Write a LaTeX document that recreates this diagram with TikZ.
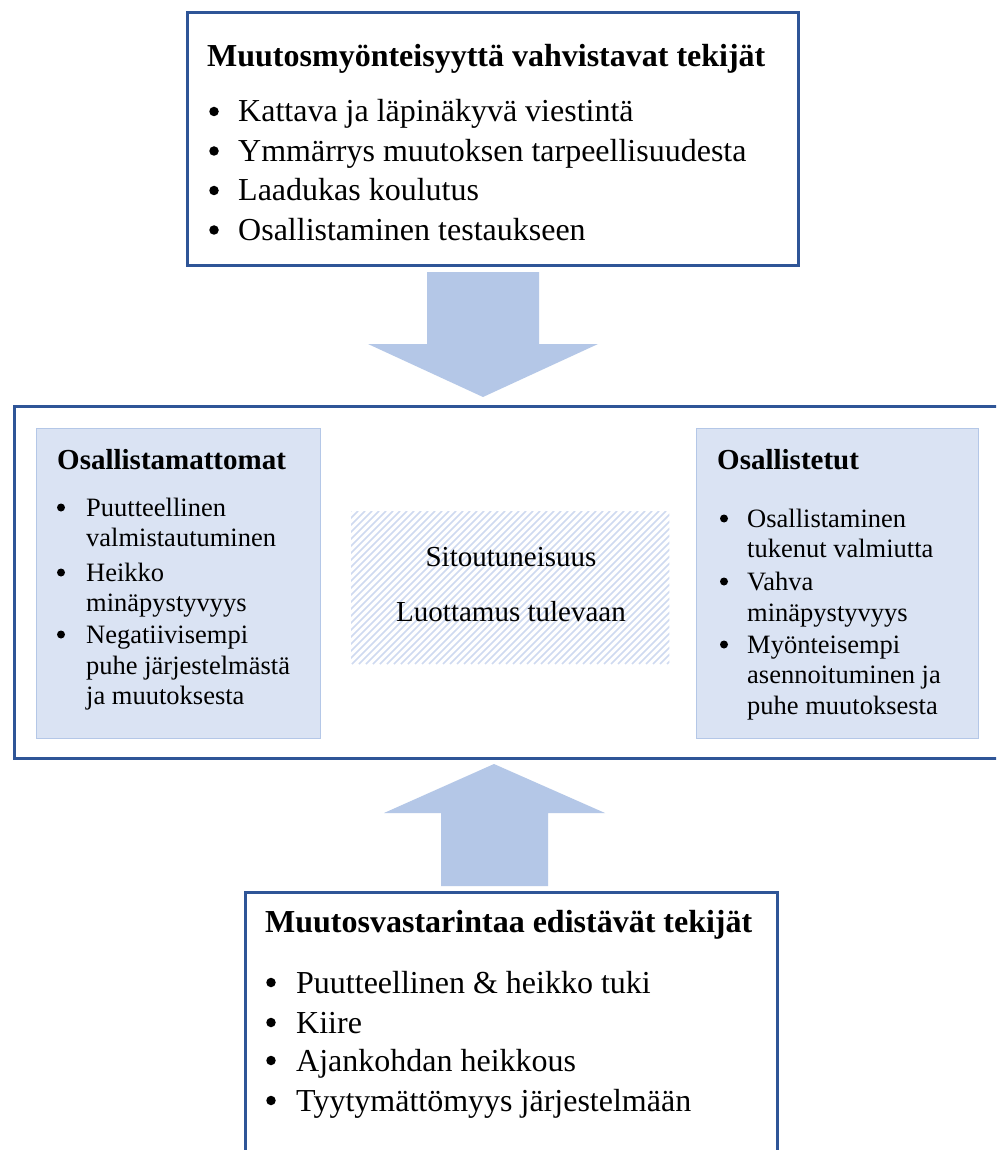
\documentclass[tikz,border=0pt]{standalone}
\usepackage{fontspec}
\setmainfont{Liberation Serif}
\definecolor{bdr}{HTML}{2F5597}
\definecolor{arw}{HTML}{B4C7E7}
\definecolor{innerfill}{HTML}{DAE3F3}
\definecolor{innerline}{HTML}{B4C7E7}
\definecolor{hatchc}{HTML}{CFDAF0}
\begin{document}
\begin{tikzpicture}[x=1pt,y=-1pt,
  bigbox/.style={draw=bdr, line width=3pt, fill=white, inner sep=0pt, anchor=north west},
  subbox/.style={draw=innerline, line width=1pt, fill=innerfill, inner sep=0pt, anchor=north west},
  blockarrow/.style={fill=arw, draw=none},
  bigdot/.style={circle, fill=black, inner sep=0pt, minimum size=9.5pt},
  smalldot/.style={circle, fill=black, inner sep=0pt, minimum size=8pt},
  bigtxt/.style={anchor=base west, inner sep=0pt, font=\fontsize{32}{38}\selectfont},
  bigtitle/.style={anchor=base west, inner sep=0pt, font=\fontsize{32}{38}\selectfont\bfseries},
  smalltxt/.style={anchor=base west, inner sep=0pt, font=\fontsize{26.5}{30}\selectfont},
  smalltitle/.style={anchor=base west, inner sep=0pt, font=\fontsize{29}{34}\selectfont\bfseries},
  midtxt/.style={anchor=base, inner sep=0pt, font=\fontsize{29}{34}\selectfont}]
\useasboundingbox (0,0) rectangle (996,1150);
\clip (0,0) rectangle (996,1150);
\fill[white] (0,0) rectangle (996,1150);

% boxes
\node[bigbox, minimum width=611pt, minimum height=252pt] (topbox) at (186,11.5) {};
\node[bigbox, minimum width=1000pt, minimum height=352pt] (midbox) at (12.5,404.5) {};
\node[subbox, minimum width=284pt, minimum height=310pt] (leftbox) at (36,428) {};
\node[subbox, minimum width=282pt, minimum height=310pt] (rightbox) at (696,428) {};
\node[draw=none, inner sep=0pt, anchor=north west, minimum width=318pt, minimum height=153pt] (centerbox) at (351,511) {};
\node[bigbox, minimum width=532pt, minimum height=300pt] (botbox) at (243.5,891) {};

% hatching of the centre area
\begin{scope}
  \clip (centerbox.south west) rectangle (centerbox.north east);
  \foreach \k in {-160,-153,...,330}
    \draw[hatchc, line width=1.5pt] (351+\k,664) -- ++(153,-153);
\end{scope}

% block arrows
\coordinate (downtip) at (483,397);
\coordinate (uptip) at (494,764);
\fill[blockarrow] (427,272) -- (539,272) -- (539,344) -- (598,344) -- (downtip) -- (368,344) -- (427,344) -- cycle;
\fill[blockarrow] (uptip) -- (605,813) -- (548,813) -- (548,886) -- (441,886) -- (441,813) -- (384,813) -- cycle;

% top box texts
\node[bigtitle] (t0) at (207,67) {Muutosmyönteisyyttä vahvistavat tekijät};
\node[bigdot] (tb1) at (214,111.5) {};
\node[bigtxt] (t1) at (238,122) {Kattava ja läpinäkyvä viestintä};
\node[bigdot] (tb2) at (214,151) {};
\node[bigtxt] (t2) at (238,161.5) {Ymmärrys muutoksen tarpeellisuudesta};
\node[bigdot] (tb3) at (214,190.5) {};
\node[bigtxt] (t3) at (238,201) {Laadukas koulutus};
\node[bigdot] (tb4) at (214,230) {};
\node[bigtxt] (t4) at (238,240.5) {Osallistaminen testaukseen};

% left inner box
\node[smalltitle] (l0) at (57,469) {Osallistamattomat};
\node[smalldot] (lb1) at (61,507.5) {};
\node[smalltxt] (l1) at (86,516) {Puutteellinen};
\node[smalltxt] (l1b) at (86,546) {valmistautuminen};
\node[smalldot] (lb2) at (61,572.5) {};
\node[smalltxt] (l2) at (86,581) {Heikko};
\node[smalltxt] (l2b) at (86,611) {minäpystyvyys};
\node[smalldot] (lb3) at (61,634.5) {};
\node[smalltxt] (l3) at (86,643) {Negatiivisempi};
\node[smalltxt] (l3b) at (86,674) {puhe järjestelmästä};
\node[smalltxt] (l3c) at (86,704) {ja muutoksesta};

% right inner box
\node[smalltitle] (r0) at (717,469) {Osallistetut};
\node[smalldot] (rb1) at (724,518.5) {};
\node[smalltxt] (r1) at (747,527) {Osallistaminen};
\node[smalltxt] (r1b) at (747,557) {tukenut valmiutta};
\node[smalldot] (rb2) at (724,581.5) {};
\node[smalltxt] (r2) at (747,590) {Vahva};
\node[smalltxt] (r2b) at (747,621) {minäpystyvyys};
\node[smalldot] (rb3) at (724,644.5) {};
\node[smalltxt] (r3) at (747,653) {Myönteisempi};
\node[smalltxt] (r3b) at (747,683) {asennoituminen ja};
\node[smalltxt] (r3c) at (747,714) {puhe muutoksesta};

% centre texts
\node[midtxt] (c1) at (511,566) {Sitoutuneisuus};
\node[midtxt] (c2) at (511,621) {Luottamus tulevaan};

% bottom box texts
\node[bigtitle] (b0) at (265,932) {Muutosvastarintaa edistävät tekijät};
\node[bigdot] (bb1) at (271,982.5) {};
\node[bigtxt] (b1) at (296,993) {Puutteellinen \& heikko tuki};
\node[bigdot] (bb2) at (271,1022.5) {};
\node[bigtxt] (b2) at (296,1033) {Kiire};
\node[bigdot] (bb3) at (271,1060.5) {};
\node[bigtxt] (b3) at (296,1071) {Ajankohdan heikkous};
\node[bigdot] (bb4) at (271,1100.5) {};
\node[bigtxt] (b4) at (296,1111) {Tyytymättömyys järjestelmään};
\end{tikzpicture}
\end{document}
